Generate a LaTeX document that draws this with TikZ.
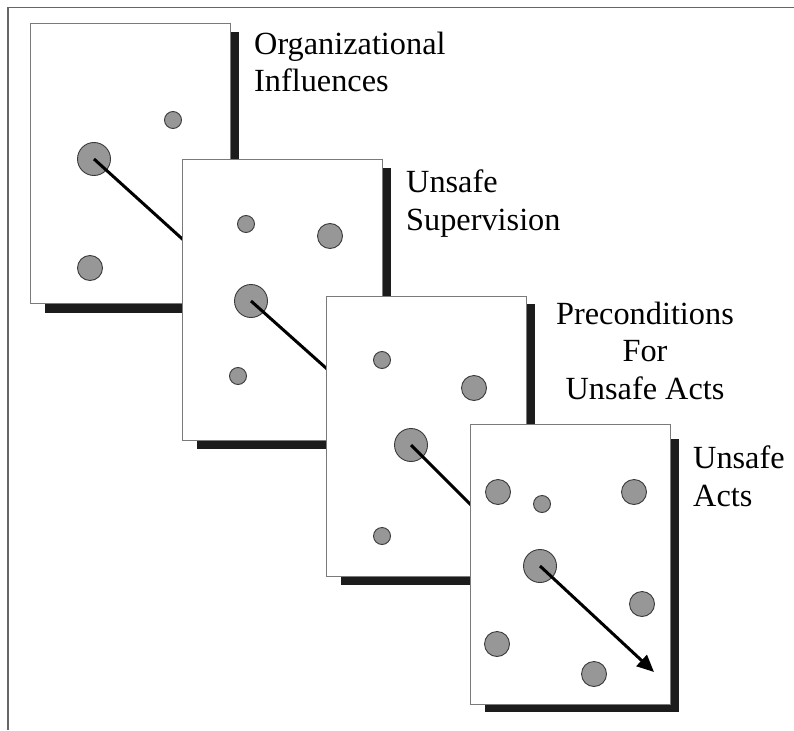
\documentclass[tikz,border=0pt]{standalone}
\usepackage{fontspec}
\setmainfont{Liberation Serif}
\usetikzlibrary{arrows.meta}
\definecolor{framegray}{HTML}{666666}
\definecolor{edgegray}{HTML}{7A7A7A}
\definecolor{shadowblk}{HTML}{1C1C1C}
\definecolor{dotfill}{HTML}{979797}
\definecolor{dotedge}{HTML}{3A3A3A}
\tikzset{
  panelbox/.style={draw=edgegray, line width=1pt, fill=white},
  shadowbox/.style={fill=shadowblk, draw=none},
  dot/.style={circle, draw=dotedge, line width=0.9pt, fill=dotfill, inner sep=0pt, minimum size=#1},
  bigdot/.style={dot=33pt},
  meddot/.style={dot=25pt},
  smalldot/.style={dot=17pt},
  path/.style={draw=black, line width=3pt},
  label/.style={font=\fontsize{32.3}{37.5}\selectfont, inner sep=0pt, text=black}
}
\begin{document}
\begin{tikzpicture}[x=1pt,y=-1pt]
\useasboundingbox (0,0) rectangle (794,730);
% outer frame (open at right and bottom)
\draw[framegray, line width=1.6pt] (794,7.5) -- (8,7.5) -- (8,730);

% ---------- panel 1 ----------
\fill[shadowbox] (45,32) rectangle (238.7,312.7);
\draw[panelbox] (30,24) rectangle (230,303);
\node[smalldot] (a1) at (173,120) {};
\node[meddot] (a3) at (90,268) {};
\node[bigdot] (a2) at (94,159) {};
\coordinate (a2end) at (200,255);
\draw[path] (a2.center) -- (a2end);

% ---------- panel 2 ----------
\fill[shadowbox] (197,168) rectangle (390.5,448.5);
\draw[panelbox] (182,160) rectangle (382,440);
\node[smalldot] (b1) at (246,224) {};
\node[meddot] (b2) at (330,236) {};
\node[smalldot] (b4) at (238,376) {};
\node[bigdot] (b3) at (251,301) {};
\coordinate (b3end) at (345,385);
\draw[path] (b3.center) -- (b3end);

% ---------- panel 3 ----------
\fill[shadowbox] (341,304) rectangle (534.5,585);
\draw[panelbox] (326,296) rectangle (526,576);
\node[smalldot] (c1) at (382,360) {};
\node[meddot] (c2) at (474,388) {};
\node[smalldot] (c4) at (382,536) {};
\node[bigdot] (c3) at (411,445) {};
\coordinate (c3end) at (490,524);
\draw[path] (c3.center) -- (c3end);

% ---------- panel 4 ----------
\fill[shadowbox] (485,439) rectangle (678.5,712);
\draw[panelbox] (470,424) rectangle (670,704);
\node[meddot] (d1) at (498,492) {};
\node[smalldot] (d2) at (542,504) {};
\node[meddot] (d3) at (634,492) {};
\node[meddot] (d5) at (642,604) {};
\node[meddot] (d6) at (497,644) {};
\node[meddot] (d7) at (594,674) {};
\node[bigdot] (d4) at (540,566) {};
\coordinate (d4end) at (654,672);
\draw[path, -{Triangle[length=17pt,width=15pt]}] (d4.center) -- (d4end);

% ---------- labels (base anchor = last line's baseline) ----------
\node[label, anchor=base west, align=left] (l1) at (254,92) {Organizational\\Influences};
\node[label, anchor=base west, align=left] (l2) at (406,230) {Unsafe\\Supervision};
\node[label, anchor=base, align=center] (l3) at (645,399) {Preconditions\\For\\Unsafe Acts};
\node[label, anchor=base west, align=left] (l4) at (693,506) {Unsafe\\Acts};
\end{tikzpicture}
\end{document}
